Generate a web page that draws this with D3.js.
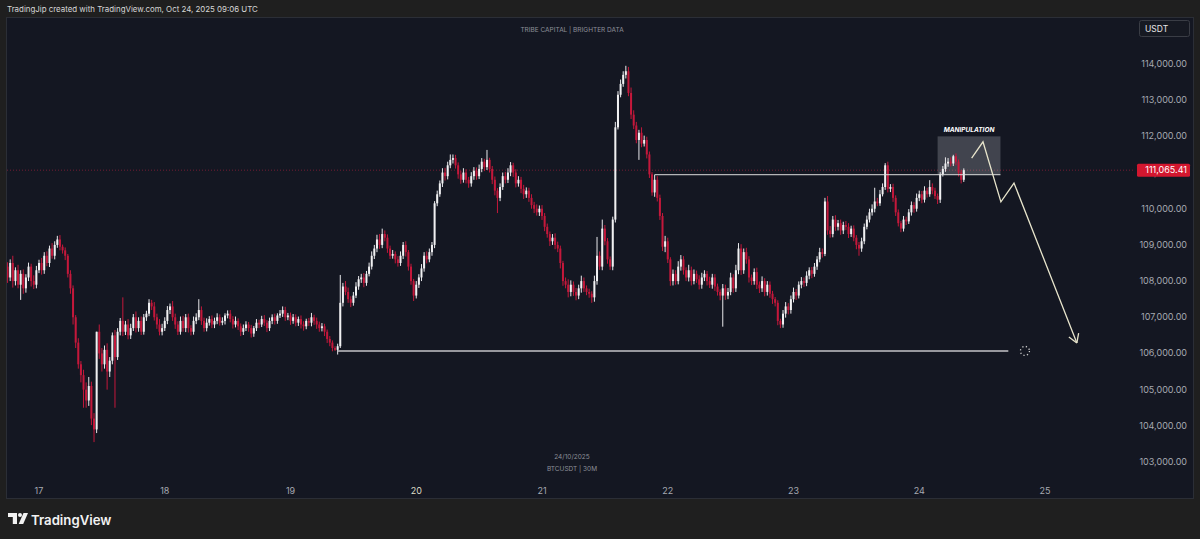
<!DOCTYPE html>
<html>
<head>
<meta charset="utf-8">
<script src="https://cdn.jsdelivr.net/npm/d3@7"></script>
<style>
  body { margin: 0; background: #1f1f1f; }
  svg text { font-family: "Inter", "Roboto", "Liberation Sans", sans-serif; }
</style>
</head>
<body>
<script>
// BTCUSDT 30m candles, Oct 16 17:30 UTC -> Oct 24 09:00 UTC
var firstOpen = 108200;
var closes = [
  108400,108100,108500,108000,108300,107900,108200,107800,108100,108400,
  108000,107900,108300,108500,108300,108700,108500,108900,108700,109000,
  109150,108950,108850,108700,108200,107800,107000,106300,105700,105400,
  105000,104700,105100,104200,103900,106600,106000,105700,106100,105500,
  105800,106500,105900,106600,106900,106600,106800,106500,106700,107000,
  106700,106900,106600,107000,107100,107400,107300,107000,106800,106600,
  106700,106900,107200,107300,107000,106800,106600,106900,106700,107000,
  106700,106600,106900,107000,107200,106900,106700,106850,106950,106800,
  106900,107000,106850,106900,107050,107100,106950,106800,106900,106750,
  106600,106700,106800,106700,106550,106700,106850,106800,106950,106850,
  106700,106900,107000,106900,107050,107100,107200,107000,107050,106900,
  107000,106850,106950,106800,106750,106900,106850,107000,106900,106800,
  106700,106750,106600,106400,106300,106150,106100,106200,107400,107850,
  107700,107500,107400,107600,107850,108050,108100,107950,108200,108400,
  108700,108900,109150,109000,109300,109200,108900,108700,108750,108600,
  108500,108700,109000,108800,108400,108000,107600,107900,108100,108350,
  108700,108600,108800,109000,110150,110400,110700,111000,110900,111200,
  111350,111400,111200,110950,110800,111000,110800,110700,110900,111050,
  110900,111100,111300,111150,111350,111100,110800,110500,110300,110600,
  110900,110800,111000,111200,111000,110700,110800,110550,110400,110500,
  110300,110100,110000,109900,110000,109800,109500,109300,109100,109200,
  109000,108900,108500,108000,107900,107700,107900,107700,107600,107800,
  108000,107800,107700,107650,107550,108000,108700,108400,109450,109100,
  108600,108400,109700,112250,113150,113450,113700,113800,113200,112600,
  112300,111900,112100,111800,111900,111500,110950,110450,110800,110300,
  109800,108950,109100,108600,108000,108200,108000,108400,108600,108300,
  108100,108300,108000,108200,108050,107900,108100,108200,108000,107900,
  108100,107850,107700,107600,107800,107600,107700,108100,107800,108300,
  108900,108300,108800,108600,108100,108000,108250,107900,107800,108000,
  107700,107900,107650,107500,107400,106900,106800,107100,107300,107200,
  107500,107700,107600,107900,108000,107950,108150,108300,108200,108400,
  108600,108800,108750,110200,109400,109300,109700,109500,109600,109400,
  109550,109500,109300,109450,109200,109000,108900,109100,109500,109700,
  109900,110000,110200,110150,110400,110600,111200,110550,110600,110300,
  109900,109600,109450,109700,109650,109900,110100,110000,110300,110400,
  110250,110500,110400,110600,110500,110350,110250,110950,111100,111250,
  111300,111250,111450,111300,111000,110800,111065.41
];
// wick length above / below the body, USDT
var upWick = [
  150,120,100,200,80,150,100,120,90,110, 80,160,120,90,140,100,120,80,150,100,
  100,120,60,80,50,100,80,60,120,90, 150,200,250,120,150,0,200,150,120,180,
  100,80,150,100,80,650,100,150,120,90, 160,100,120,90,80,100,80,120,100,150,
  120,100,110,80,150,100,90,120,140,90, 100,80,120,110,300,100,90,120,80,100,
  90,110,80,100,60,90,100,80,120,70, 80,100,90,70,90,60,100,80,90,110,
  70,90,80,100,60,100,100,90,70,80, 90,80,70,100,90,60,80,120,70,90,
  80,90,70,60,80,60,50,70,770,100, 150,120,80,100,120,90,100,120,80,110,
  120,100,130,150,150,100,90,80,110,70, 90,120,80,100,60,80,60,100,90,120,
  100,120,100,80,60,100,80,120,130,100, 150,100,90,80,100,120,90,80,110,100,
  90,120,100,80,275,60,80,90,70,100, 100,120,120,90,70,90,100,80,110,90,
  80,100,90,120,90,100,80,90,70,100, 120,90,80,60,100,150,120,90,110,100,
  150,100,80,90,70,150,520,120,250,100, 90,80,80,150,100,120,100,150,120,150,
  120,100,80,150,120,90,80,60,140,100, 90,80,150,100,60,120,100,150,120,90,
  80,150,100,120,90,110,130,100,80,120, 100,90,80,70,120,100,110,130,90,150,
  150,120,100,120,90,80,100,120,90,130, 80,100,90,80,60,70,60,100,120,90,
  100,120,80,90,110,100,120,80,90,100, 90,120,100,100,150,120,100,120,90,100,
  90,110,100,80,90,70,80,100,90,110, 100,120,380,100,120,100,60,100,80,90,
  70,80,60,100,80,90,100,80,120,100, 90,120,80,190,100,80,70,60,80,170,
  100,120,40,80,60,70,50
];
var downWick = [
  120,150,100,180,120,100,420,150,120,100, 150,120,100,80,120,100,90,110,80,100,
  80,100,90,120,100,150,200,150,120,200, 500,200,150,180,350,100,150,200,120,500,
  150,100,1400,80,100,120,90,110,100,80, 120,100,90,80,100,70,100,90,120,100,
  100,80,90,110,100,120,90,80,100,110, 120,100,80,90,80,110,100,90,80,100,
  100,90,80,70,100,80,90,110,80,100, 120,90,80,100,110,90,80,100,70,90,
  110,80,90,100,80,70,90,100,80,110, 80,100,90,110,120,80,90,100,110,120,
  100,90,120,110,100,90,30,130,50,100, 90,100,120,80,70,90,100,120,80,70,
  80,90,100,110,90,100,120,90,80,110, 100,80,90,120,110,100,150,80,90,100,
  90,110,80,100,90,80,70,100,120,90, 80,100,90,120,110,80,100,120,90,100,
  100,80,90,110,80,100,120,130,420,90, 80,100,90,100,120,110,90,120,130,100,
  110,100,120,90,100,110,120,100,130,100, 120,100,150,130,100,150,120,110,130,100,
  120,100,90,110,150,120,100,90,100,110, 120,90,100,80,60,70,80,100,90,120,
  100,90,550,100,80,110,100,90,120,100, 110,120,150,100,130,120,100,90,110,120,
  100,110,120,90,100,130,110,100,120,90, 110,120,100,130,860,120,100,90,120,100,
  110,130,100,120,140,110,100,120,130,100, 120,100,110,130,100,120,100,90,110,120,
  100,90,120,80,100,110,90,100,120,80, 90,80,100,60,120,100,90,110,100,120,
  100,90,110,80,100,120,200,90,80,70, 80,90,100,80,70,60,80,100,90,110,
  100,90,100,80,100,70,90,110,80,90, 100,80,90,70,100,80,120,90,60,80,
  90,80,70,100,110,100,60
];

var yTicks = [103000,104000,105000,106000,107000,108000,109000,110000,111000,112000,113000,114000];
var dayTicks = ["2025-10-17","2025-10-18","2025-10-19","2025-10-20","2025-10-21","2025-10-22","2025-10-23","2025-10-24","2025-10-25"];

// drawings on the chart
var supportLevel = {price: 106070, from: "2025-10-19T09:00", to: "2025-10-24T17:00"};
var breakLevel = {price: 110940, from: "2025-10-21T21:30", to: "2025-10-24T15:30"};
var manipBox = {from: "2025-10-24T03:30", to: "2025-10-24T15:30", low: 110940, high: 112000};
var arrowPath = [
  ["2025-10-24T10:00", 111400],
  ["2025-10-24T12:10", 111850],
  ["2025-10-24T15:35", 110190],
  ["2025-10-24T18:05", 110710],
  ["2025-10-25T06:05", 106290]
];
var targetDot = {t: "2025-10-24T20:10", price: 106070};

var width = 1200, height = 539;
var parse = d3.utcParse("%Y-%m-%dT%H:%M");
var parseDay = d3.utcParse("%Y-%m-%d");

var start = Date.UTC(2025, 9, 16, 17, 30);
var candles = closes.map(function (c, i) {
  var o = i === 0 ? firstOpen : closes[i - 1];
  return {
    t: new Date(start + i * 30 * 60000),
    o: o, c: c,
    h: Math.max(o, c) + upWick[i],
    l: Math.min(o, c) - downWick[i]
  };
});
var last = candles[candles.length - 1];

var x = d3.scaleUtc()
    .domain([parseDay("2025-10-17"), parseDay("2025-10-25")])
    .range([39, 1045]);
var y = d3.scaleLinear().domain([103000, 114000]).range([462, 64]);

var svg = d3.select("body").append("svg")
    .attr("width", width)
    .attr("height", height);

svg.append("rect").attr("width", width).attr("height", height).attr("fill", "#1f1f1f");

// header
svg.append("text")
    .attr("x", 7).attr("y", 12)
    .attr("fill", "#d6d6d6").attr("font-size", 7.9)
    .text("TradingJip created with TradingView.com, Oct 24, 2025 09:06 UTC");

// chart panel
svg.append("rect")
    .attr("x", 6.5).attr("y", 17.5).attr("width", 1187).attr("height", 481)
    .attr("fill", "#141722").attr("stroke", "#2b2e36");

svg.append("defs").append("clipPath").attr("id", "plot")
  .append("rect").attr("x", 7).attr("y", 18).attr("width", 1128).attr("height", 480);

var plot = svg.append("g").attr("clip-path", "url(#plot)");

// watermark texts
svg.append("text")
    .attr("x", 572).attr("y", 32).attr("text-anchor", "middle")
    .attr("fill", "#8c8f98").attr("font-size", 6.5)
    .text("TRIBE CAPITAL | BRIGHTER DATA");
svg.append("text")
    .attr("x", 572).attr("y", 459).attr("text-anchor", "middle")
    .attr("fill", "#8c8f98").attr("font-size", 6.5)
    .text("24/10/2025");
svg.append("text")
    .attr("x", 572).attr("y", 471).attr("text-anchor", "middle")
    .attr("fill", "#8c8f98").attr("font-size", 6.5)
    .text("BTCUSDT | 30M");

// last price line
plot.append("line")
    .attr("x1", 7).attr("x2", 1135)
    .attr("y1", y(last.c)).attr("y2", y(last.c))
    .attr("stroke", "#b3223d").attr("stroke-opacity", 0.6)
    .attr("stroke-dasharray", "1,2");

// manipulation box
plot.append("rect")
    .attr("x", x(parse(manipBox.from)))
    .attr("y", y(manipBox.high))
    .attr("width", x(parse(manipBox.to)) - x(parse(manipBox.from)))
    .attr("height", y(manipBox.low) - y(manipBox.high))
    .attr("fill", "#c8cad4").attr("fill-opacity", 0.25);
plot.append("text")
    .attr("x", (x(parse(manipBox.from)) + x(parse(manipBox.to))) / 2)
    .attr("y", y(manipBox.high) - 4)
    .attr("text-anchor", "middle")
    .attr("fill", "#ffffff").attr("font-size", 6.5)
    .attr("font-weight", 700).attr("font-style", "italic")
    .text("MANIPULATION");

// candles
var cw = 2;
var g = plot.append("g");
g.selectAll("line")
  .data(candles)
  .enter().append("line")
    .attr("x1", function (d) { return x(d.t); })
    .attr("x2", function (d) { return x(d.t); })
    .attr("y1", function (d) { return y(d.h); })
    .attr("y2", function (d) { return y(d.l); })
    .attr("stroke", function (d) { return d.c >= d.o ? "#e9e9ec" : "#c4183b"; })
    .attr("stroke-width", 1);
g.selectAll("rect")
  .data(candles)
  .enter().append("rect")
    .attr("x", function (d) { return x(d.t) - cw / 2; })
    .attr("width", cw)
    .attr("y", function (d) { return y(Math.max(d.o, d.c)); })
    .attr("height", function (d) { return Math.max(1, Math.abs(y(d.o) - y(d.c))); })
    .attr("fill", function (d) { return d.c >= d.o ? "#f0f0f2" : "#c4183b"; });

// horizontal levels
plot.append("line")
    .attr("x1", x(parse(supportLevel.from))).attr("x2", x(parse(supportLevel.to)))
    .attr("y1", y(supportLevel.price)).attr("y2", y(supportLevel.price))
    .attr("stroke", "#c4c4c8").attr("stroke-width", 1.5);
plot.append("line")
    .attr("x1", x(parse(breakLevel.from))).attr("x2", x(parse(breakLevel.to)))
    .attr("y1", y(breakLevel.price)).attr("y2", y(breakLevel.price))
    .attr("stroke", "#dedede").attr("stroke-width", 1);

// projected path
var pts = arrowPath.map(function (p) { return [x(parse(p[0])), y(p[1])]; });
plot.append("path")
    .attr("d", d3.line()(pts))
    .attr("fill", "none").attr("stroke", "#e8e5cc").attr("stroke-width", 1.3);
var tip = pts[pts.length - 1], prev = pts[pts.length - 2];
var ang = Math.atan2(tip[1] - prev[1], tip[0] - prev[0]);
[-0.55, 0.55].forEach(function (da) {
  plot.append("line")
      .attr("x1", tip[0]).attr("y1", tip[1])
      .attr("x2", tip[0] - 10 * Math.cos(ang + da))
      .attr("y2", tip[1] - 10 * Math.sin(ang + da))
      .attr("stroke", "#e8e5cc").attr("stroke-width", 1.3);
});

// dotted target circle
plot.append("circle")
    .attr("cx", x(parse(targetDot.t))).attr("cy", y(targetDot.price)).attr("r", 4.5)
    .attr("fill", "none").attr("stroke", "#cfcfcf").attr("stroke-width", 1.3)
    .attr("stroke-dasharray", "1.2,2.4");

// price axis
svg.append("g").selectAll("text")
  .data(yTicks)
  .enter().append("text")
    .attr("x", 1187).attr("y", function (d) { return y(d) + 3; })
    .attr("text-anchor", "end")
    .attr("fill", "#a6a9b1").attr("font-size", 9)
    .text(function (d) { return d3.format(",.2f")(d); });

svg.append("rect")
    .attr("x", 1139.5).attr("y", 20.5).attr("width", 50).attr("height", 16).attr("rx", 2)
    .attr("fill", "#161922").attr("stroke", "#3a3d45");
svg.append("text")
    .attr("x", 1145).attr("y", 31.5)
    .attr("fill", "#e6e6e6").attr("font-size", 8.5)
    .text("USDT");

svg.append("rect")
    .attr("x", 1137).attr("y", y(last.c) - 6.5).attr("width", 53).attr("height", 13).attr("rx", 1.5)
    .attr("fill", "#d3172f");
svg.append("text")
    .attr("x", 1187).attr("y", y(last.c) + 3)
    .attr("text-anchor", "end")
    .attr("fill", "#ffffff").attr("font-size", 9)
    .text(d3.format(",.2f")(last.c));

// time axis
svg.append("g").selectAll("text")
  .data(dayTicks)
  .enter().append("text")
    .attr("x", function (d) { return x(parseDay(d)); })
    .attr("y", 494)
    .attr("text-anchor", "middle")
    .attr("fill", function (d) { return d === "2025-10-20" ? "#dcdcc8" : "#a6a9b1"; })
    .attr("font-size", 9)
    .text(function (d) { return +d.slice(8); });

// TradingView logo
var logo = svg.append("g").attr("fill", "#f2f2f2");
logo.append("path").attr("d", "M8,513 h9 v11 h-4.2 v-7 h-4.8 z");
logo.append("circle").attr("cx", 20).attr("cy", 515).attr("r", 2);
logo.append("path").attr("d", "M23.5,513 h4.5 l-4.8,11 h-4.5 z");
svg.append("text")
    .attr("x", 31).attr("y", 524.5)
    .attr("fill", "#f2f2f2").attr("font-size", 13.2).attr("font-weight", 600)
    .text("TradingView");
</script>
</body>
</html>
